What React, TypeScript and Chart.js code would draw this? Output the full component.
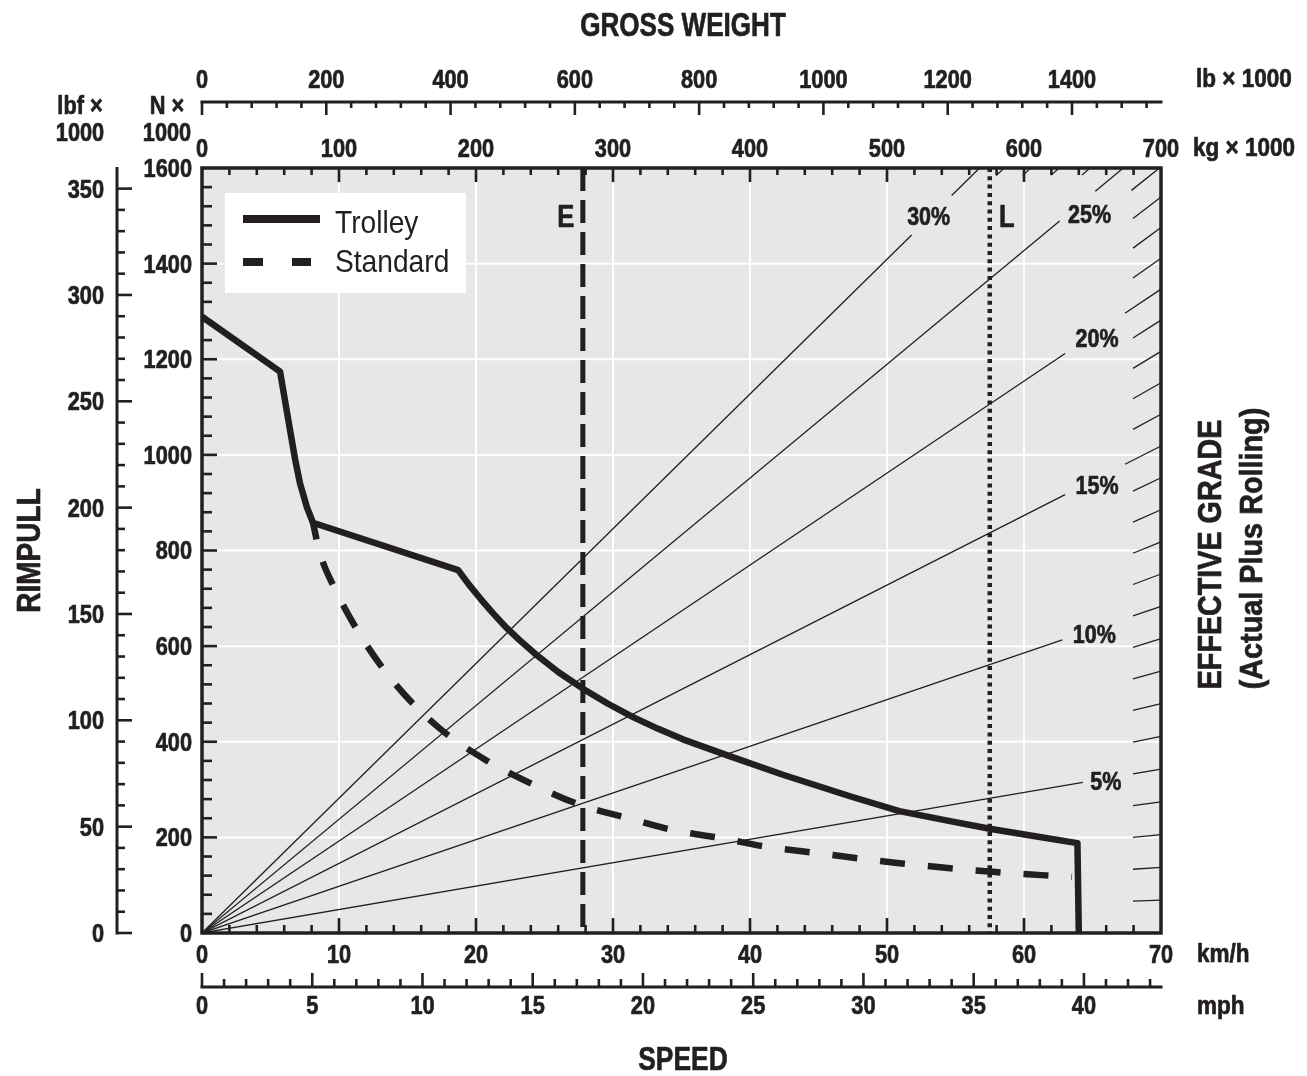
import React, { useEffect, useRef } from 'react';
import { Chart, registerables } from 'chart.js';

Chart.register(...registerables);

// ---------------- data ----------------
const trolleySpeedKmh = [0, 5.7, 6.3, 6.8, 7.15, 7.65, 8.1, 18.7, 19.5, 20.3, 21.2, 22.1, 23.2, 24.4, 26.0, 27.8, 29.6, 31.5, 33.3, 35.1, 38.3, 42.4, 47.3, 50.9, 54.6, 57.5, 60.7, 63.9, 64.0];
const trolleyRimpullKn = [1289, 1174, 1073, 990, 941, 891, 858, 759, 728, 700, 670, 642, 612, 582, 546, 511, 480, 451, 427, 405, 372, 331, 286, 255, 234, 218, 203, 188, 0];

const standardSpeedKmh = [8.1, 8.6, 9.7, 11.6, 14.1, 17.3, 20.7, 24.2, 27.6, 31.0, 34.4, 37.8, 41.3, 44.9, 50.9, 57.7, 63.5];
const standardRimpullKn = [858, 795, 720, 621, 521, 429, 362, 310, 268, 241, 215, 199, 180, 167, 146, 128, 117];

const eSpeedKmh = 27.8;
const lSpeedKmh = 57.5;

// labelled effective-grade lines (from origin to where the line stops before its label)
const gradePercents = [5, 10, 15, 20, 25, 30];
const gradeLineEndWeightT = [643, 628, 630, 630, 626, 518];
const gradeLineEndRimpullKn = [315, 613, 917, 1212, 1489, 1460];
// effective grade scale ticks around the border
const gradeTickPercents = [1, 2, 3, 4, 5, 6, 7, 8, 9, 10, 11, 12, 13, 14, 15, 16, 17, 18, 19, 20, 21, 22, 23, 24, 25, 26, 27, 28, 29, 30];

// axis tick labels
const speedKmhTicks = [0, 10, 20, 30, 40, 50, 60, 70];
const speedMphTicks = [0, 5, 10, 15, 20, 25, 30, 35, 40];
const weightLbTicks = [0, 200, 400, 600, 800, 1000, 1200, 1400];
const weightKgTicks = [0, 100, 200, 300, 400, 500, 600, 700];
const rimpullKnTicks = [0, 200, 400, 600, 800, 1000, 1200, 1400, 1600];
const rimpullLbfTicks = [0, 50, 100, 150, 200, 250, 300, 350];

// axis ranges and unit conversions
const SPEED_MAX_KMH = 70;
const RIMPULL_MAX_KN = 1600;
const WEIGHT_MAX_T = 700;
const LB_PER_KG = 2.20462;
const KMH_PER_MPH = 1.609344;
const KN_PER_KLBF = 4.44822;
const G_ACC = 9.81;

// ---------------- styling ----------------
const INK = '#231f20';
const PANEL = '#e6e7e9';
const FONT_FAMILY = "'Liberation Sans', Arial, sans-serif";
const CAP = 0.716;
const gradeLabelOffsets: [number, number][] = [[23, -1], [32, -6], [32, -10], [32, -15], [30, -7], [17, -19]];

type TextStyle = { size: number; sx: number; bold: boolean };
const TICK: TextStyle = { size: 25, sx: 0.87, bold: true };
const UNIT: TextStyle = { size: 25, sx: 0.9, bold: true };
const GRADE: TextStyle = { size: 25, sx: 0.86, bold: true };
const MARK: TextStyle = { size: 32, sx: 0.8, bold: true };
const LEGEND: TextStyle = { size: 32, sx: 0.88, bold: false };

function steps(start: number, end: number, step: number): number[] {
  const out: number[] = [];
  for (let v = start; v <= end + 1e-9; v += step) out.push(Math.round(v * 1000) / 1000);
  return out;
}

function drawText(ctx: CanvasRenderingContext2D, s: string, x: number, yc: number, st: TextStyle, align: CanvasTextAlign = 'center') {
  ctx.save();
  ctx.font = `${st.bold ? 'bold ' : ''}${st.size}px ${FONT_FAMILY}`;
  ctx.textAlign = align;
  ctx.textBaseline = 'alphabetic';
  ctx.fillStyle = INK;
  ctx.translate(x, yc + (st.size * CAP) / 2);
  ctx.scale(st.sx, 1);
  ctx.fillText(s, 0, 0);
  if (st.bold) {
    ctx.strokeStyle = INK;
    ctx.lineWidth = 0.7;
    ctx.lineJoin = 'round';
    ctx.strokeText(s, 0, 0);
  }
  ctx.restore();
}

function drawRotated(ctx: CanvasRenderingContext2D, s: string, x: number, y: number, st: TextStyle) {
  ctx.save();
  ctx.translate(x, y);
  ctx.rotate(-Math.PI / 2);
  drawText(ctx, s, 0, 0, st, 'center');
  ctx.restore();
}

function seg(ctx: CanvasRenderingContext2D, x1: number, y1: number, x2: number, y2: number) {
  ctx.beginPath();
  ctx.moveTo(x1, y1);
  ctx.lineTo(x2, y2);
  ctx.stroke();
}

const decorPlugin = {
  id: 'rimpullDecor',
  beforeDatasetsDraw(chart: any) {
    const { ctx, chartArea: a, scales } = chart;
    ctx.save();
    ctx.fillStyle = PANEL;
    ctx.fillRect(a.left, a.top, a.right - a.left, a.bottom - a.top);
    ctx.strokeStyle = '#ffffff';
    ctx.lineWidth = 2;
    for (const v of speedKmhTicks) {
      if (v <= 0 || v >= SPEED_MAX_KMH) continue;
      const x = scales.x.getPixelForValue(v);
      seg(ctx, x, a.top, x, a.bottom);
    }
    for (const v of rimpullKnTicks) {
      if (v <= 0 || v >= RIMPULL_MAX_KN) continue;
      const y = scales.y.getPixelForValue(v);
      seg(ctx, a.left, y, a.right, y);
    }
    ctx.restore();
  },
  afterDatasetsDraw(chart: any) {
    const { ctx, chartArea: a, scales } = chart;
    const sx = scales.x, sy = scales.y, skg = scales.kg, slb = scales.lb, smph = scales.mph, slbf = scales.lbf;
    ctx.save();
    ctx.lineCap = 'butt';
    ctx.strokeStyle = INK;

    // effective grade scale ticks on the border
    ctx.lineWidth = 1.3;
    const ox = skg.getPixelForValue(0), oy = sy.getPixelForValue(0);
    for (const g of gradeTickPercents) {
      const s = Math.sin(Math.atan(g / 100));
      let w = WEIGHT_MAX_T;
      let f = w * G_ACC * s;
      if (f > RIMPULL_MAX_KN) { f = RIMPULL_MAX_KN; w = f / (G_ACC * s); }
      const px = skg.getPixelForValue(w), py = sy.getPixelForValue(f);
      const ext = g === 15 || g === 20 ? 36 : g >= 26 && g <= 29 ? 8 : 28;
      const r = ext / (px - ox);
      seg(ctx, px - (px - ox) * r, py - (py - oy) * r, px, py);
    }

    // grade labels
    gradePercents.forEach((g, i) => {
      const px = skg.getPixelForValue(gradeLineEndWeightT[i]);
      const py = sy.getPixelForValue(gradeLineEndRimpullKn[i]);
      const [dx, dy] = gradeLabelOffsets[i];
      drawText(ctx, `${g}%`, px + dx, py + dy, GRADE);
    });

    // E / L labels
    drawText(ctx, 'E', sx.getPixelForValue(eSpeedKmh) - 17, a.top + 48, MARK);
    drawText(ctx, 'L', sx.getPixelForValue(lSpeedKmh) + 17, a.top + 48, MARK);

    // frame
    ctx.lineWidth = 3.5;
    ctx.strokeRect(a.left, a.top, a.right - a.left, a.bottom - a.top);

    // inner ticks
    ctx.lineWidth = 2.6;
    for (const v of steps(2, SPEED_MAX_KMH - 2, 2)) {
      const x = sx.getPixelForValue(v);
      seg(ctx, x, a.bottom, x, a.bottom - (v % 10 === 0 ? 15 : 8));
    }
    for (const v of steps(20, WEIGHT_MAX_T - 20, 20)) {
      const x = skg.getPixelForValue(v);
      seg(ctx, x, a.top, x, a.top + (v % 100 === 0 ? 14 : 7));
    }
    for (const v of steps(40, RIMPULL_MAX_KN - 40, 40)) {
      const y = sy.getPixelForValue(v);
      seg(ctx, a.left, y, a.left + (v % 200 === 0 ? 15 : 10), y);
    }

    // legend
    const lx = a.left + 23, ly = a.top + 25;
    ctx.fillStyle = '#ffffff';
    ctx.fillRect(lx, ly, 241, 100);
    const ds = chart.data.datasets;
    ctx.lineWidth = 8;
    seg(ctx, lx + 18, ly + 26, lx + 95, ly + 26);
    ctx.setLineDash([20, 29]);
    seg(ctx, lx + 18, ly + 69, lx + 86, ly + 69);
    ctx.setLineDash([]);
    drawText(ctx, ds[0].label, lx + 110, ly + 29, LEGEND, 'left');
    drawText(ctx, ds[1].label, lx + 110, ly + 68, LEGEND, 'left');

    // outer axes
    ctx.lineWidth = 3;
    const yLb = a.top - 66;
    seg(ctx, a.left - 1.5, yLb, a.right + 1.5, yLb);
    ctx.lineWidth = 2.6;
    for (const v of steps(0, 1520, 40)) {
      const x = slb.getPixelForValue(v);
      seg(ctx, x, yLb, x, yLb + (v % 200 === 0 ? 13 : 6));
    }
    ctx.lineWidth = 3;
    const yMph = a.bottom + 54;
    seg(ctx, a.left - 1.5, yMph, a.right + 1.5, yMph);
    ctx.lineWidth = 2.6;
    for (const v of steps(0, 43, 1)) {
      const x = smph.getPixelForValue(v);
      seg(ctx, x, yMph, x, yMph - (v % 5 === 0 ? 14 : 8));
    }
    ctx.lineWidth = 3;
    const xLbf = a.left - 85;
    seg(ctx, xLbf, a.top - 1, xLbf, a.bottom + 1.5);
    ctx.lineWidth = 2.6;
    for (const v of steps(0, 350, 10)) {
      const y = slbf.getPixelForValue(v);
      seg(ctx, xLbf, y, xLbf + (v % 50 === 0 ? 15 : 8), y);
    }

    // tick labels
    for (const v of speedKmhTicks) drawText(ctx, String(v), sx.getPixelForValue(v), a.bottom + 21, TICK);
    for (const v of speedMphTicks) drawText(ctx, String(v), smph.getPixelForValue(v), yMph + 18, TICK);
    for (const v of weightLbTicks) drawText(ctx, String(v), slb.getPixelForValue(v), yLb - 23, TICK);
    for (const v of weightKgTicks) drawText(ctx, String(v), skg.getPixelForValue(v), a.top - 20, TICK);
    for (const v of rimpullKnTicks) drawText(ctx, String(v), a.left - 10, sy.getPixelForValue(v), TICK, 'right');
    for (const v of rimpullLbfTicks) drawText(ctx, String(v), xLbf - 13, slbf.getPixelForValue(v), TICK, 'right');

    // unit labels
    drawText(ctx, 'lbf ×', xLbf - 37, a.top - 63, TICK);
    drawText(ctx, '1000', xLbf - 37, a.top - 36, TICK);
    drawText(ctx, 'N ×', a.left - 35, a.top - 63, TICK);
    drawText(ctx, '1000', a.left - 35, a.top - 36, TICK);
    drawText(ctx, 'lb × 1000', a.right + 35, yLb - 24, UNIT, 'left');
    drawText(ctx, 'kg × 1000', a.right + 32, a.top - 21, UNIT, 'left');
    drawText(ctx, 'km/h', a.right + 36, a.bottom + 20, UNIT, 'left');
    drawText(ctx, 'mph', a.right + 36, yMph + 18, UNIT, 'left');

    // titles
    const cx = (a.left + a.right) / 2 + 1.5;
    const cy = (a.top + a.bottom) / 2;
    drawText(ctx, 'GROSS WEIGHT', cx, a.top - 144, { size: 33, sx: 0.79, bold: true });
    drawText(ctx, 'SPEED', cx, a.bottom + 125, { size: 33, sx: 0.8, bold: true });
    drawRotated(ctx, 'RIMPULL', a.left - 174, cy, { size: 33, sx: 0.85, bold: true });
    drawRotated(ctx, 'EFFECTIVE GRADE', a.right + 48, cy + 4, { size: 33, sx: 0.87, bold: true });
    drawRotated(ctx, '(Actual Plus Rolling)', a.right + 90, cy - 2, { size: 32, sx: 0.9, bold: true });

    ctx.restore();
  },
};

export default function App() {
  const ref = useRef<HTMLCanvasElement>(null);
  useEffect(() => {
    const canvas = ref.current;
    if (!canvas) return;
    const lineBase = { pointRadius: 0, pointHoverRadius: 0, fill: false, borderColor: INK, xAxisID: 'x', yAxisID: 'y' };
    const chart = new Chart(canvas, {
      type: 'line',
      data: {
        datasets: [
          {
            ...lineBase,
            label: 'Trolley',
            data: trolleySpeedKmh.map((x, i) => ({ x, y: trolleyRimpullKn[i] })),
            borderWidth: 6.5,
            tension: 0,
            borderJoinStyle: 'round',
            order: 1,
          },
          {
            ...lineBase,
            label: 'Standard',
            data: standardSpeedKmh.map((x, i) => ({ x, y: standardRimpullKn[i] })),
            borderWidth: 6.5,
            borderDash: [25, 23],
            borderDashOffset: 8,
            cubicInterpolationMode: 'monotone',
            order: 2,
          },
          {
            ...lineBase,
            label: 'E',
            data: [{ x: eSpeedKmh, y: RIMPULL_MAX_KN }, { x: eSpeedKmh, y: 0 }],
            borderWidth: 5,
            borderDash: [23, 9],
            order: 3,
          },
          {
            ...lineBase,
            label: 'L',
            data: [{ x: lSpeedKmh, y: RIMPULL_MAX_KN }, { x: lSpeedKmh, y: 0 }],
            borderWidth: 4.5,
            borderDash: [4, 4.3],
            order: 3,
          },
          ...gradePercents.map((g, i) => ({
            ...lineBase,
            label: `${g}%`,
            xAxisID: 'kg',
            data: [{ x: 0, y: 0 }, { x: gradeLineEndWeightT[i], y: gradeLineEndRimpullKn[i] }],
            borderWidth: 1.3,
            order: 5,
          })),
        ],
      },
      options: {
        responsive: false,
        animation: false,
        events: [],
        layout: { padding: { left: 202, top: 168, right: 146, bottom: 143 } },
        scales: {
          x: { type: 'linear', min: 0, max: SPEED_MAX_KMH, display: false },
          y: { type: 'linear', min: 0, max: RIMPULL_MAX_KN, display: false },
          kg: { type: 'linear', axis: 'x', position: 'top', min: 0, max: WEIGHT_MAX_T, display: false },
          lb: { type: 'linear', axis: 'x', position: 'top', min: 0, max: WEIGHT_MAX_T * LB_PER_KG, display: false },
          mph: { type: 'linear', axis: 'x', position: 'bottom', min: 0, max: SPEED_MAX_KMH / KMH_PER_MPH, display: false },
          lbf: { type: 'linear', axis: 'y', position: 'left', min: 0, max: RIMPULL_MAX_KN / KN_PER_KLBF, display: false },
        },
        plugins: { legend: { display: false }, tooltip: { enabled: false } },
      } as any,
      plugins: [decorPlugin],
    });
    return () => chart.destroy();
  }, []);
  return (
    <div style={{ position: 'fixed', left: 0, top: 0, width: 1307, height: 1076, background: '#ffffff' }}>
      <canvas ref={ref} width={1307} height={1076} style={{ display: 'block' }} />
    </div>
  );
}
